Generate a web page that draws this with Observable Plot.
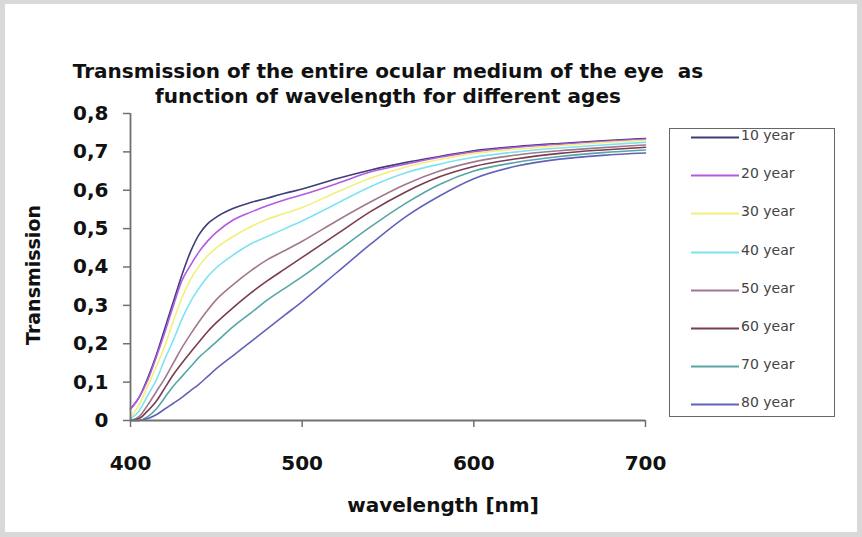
<!DOCTYPE html>
<html>
<head>
<meta charset="utf-8">
<script src="https://cdn.jsdelivr.net/npm/d3@7"></script>
<script src="https://cdn.jsdelivr.net/npm/@observablehq/plot@0.6"></script>
<style>
  html, body { margin: 0; padding: 0; }
  body { width: 862px; height: 537px; background: #d9d9d9; position: relative; overflow: hidden; font-family: "DejaVu Sans", sans-serif; }
  #panel { position: absolute; left: 5px; top: 4px; width: 852px; height: 528px; background: #fff; }
  #chart { position: absolute; left: 0; top: 0; }
  .title { position: absolute; left: 0; width: 776px; text-align: center; font-weight: bold; font-size: 20px; color: #111; white-space: pre; }
  .axlab { position: absolute; font-weight: bold; font-size: 20px; color: #111; white-space: nowrap; }
  #legend { position: absolute; left: 669px; top: 128px; width: 166px; height: 289px; border: 1.5px solid #666; box-sizing: border-box; background: #fff; }
  .lrow { position: absolute; left: 0; height: 20px; }
  .lrow svg { position: absolute; left: 21px; top: 9px; }
  .lrow span { position: absolute; left: 71px; top: 0; font-size: 14px; color: #444; white-space: nowrap; }
</style>
</head>
<body>
<div id="panel"></div>
<div id="chart"></div>
<div class="title" style="top:59px;">Transmission of the entire ocular medium of the eye  as</div>
<div class="title" style="top:84px;">function of wavelength for different ages</div>
<div class="axlab" style="left:443px; top:493px; transform:translateX(-50%);">wavelength [nm]</div>
<div class="axlab" style="left:33px; top:275px; font-size:19px; transform:translate(-50%,-50%) rotate(-90deg);">Transmission</div>
<div id="legend"></div>
<script>
const wavelengths = [400,405,410,415,420,425,430,435,440,445,450,460,470,480,490,500,520,540,560,580,600,625,650,675,700];
const ages = ["10 year","20 year","30 year","40 year","50 year","60 year","70 year","80 year"];
const colors = ["#3d3d7a","#b45ae0","#f2f07a","#7ee2f2","#a07890","#7a3c50","#56a6a6","#6262bc"];
const t10 = [0.03,0.06,0.11,0.17,0.24,0.31,0.38,0.44,0.485,0.513,0.53,0.553,0.568,0.58,0.592,0.603,0.63,0.653,0.672,0.688,0.703,0.714,0.722,0.729,0.735];
const t20 = [0.03,0.06,0.105,0.165,0.23,0.30,0.365,0.405,0.44,0.468,0.49,0.523,0.543,0.56,0.575,0.588,0.617,0.648,0.668,0.686,0.70,0.712,0.72,0.727,0.733];
const t30 = [0.01,0.04,0.09,0.14,0.195,0.26,0.32,0.368,0.403,0.43,0.45,0.48,0.505,0.525,0.54,0.555,0.595,0.632,0.66,0.68,0.696,0.707,0.716,0.724,0.73];
const t40 = [0.005,0.025,0.065,0.105,0.16,0.21,0.265,0.31,0.345,0.375,0.398,0.432,0.46,0.48,0.50,0.52,0.565,0.61,0.645,0.668,0.686,0.70,0.71,0.718,0.725];
const t50 = [0,0.01,0.04,0.075,0.11,0.15,0.19,0.225,0.258,0.288,0.315,0.355,0.39,0.42,0.443,0.467,0.52,0.57,0.615,0.65,0.674,0.692,0.703,0.711,0.718];
const t60 = [0,0.005,0.025,0.05,0.085,0.12,0.15,0.178,0.205,0.232,0.255,0.295,0.332,0.365,0.395,0.425,0.485,0.545,0.595,0.635,0.662,0.682,0.696,0.705,0.712];
const t70 = [0,0,0.01,0.03,0.06,0.09,0.115,0.14,0.165,0.185,0.205,0.245,0.28,0.315,0.345,0.375,0.44,0.505,0.565,0.615,0.65,0.673,0.688,0.698,0.705];
const t80 = [0,0,0.005,0.015,0.03,0.045,0.06,0.078,0.095,0.115,0.135,0.17,0.205,0.24,0.275,0.31,0.385,0.46,0.53,0.585,0.63,0.663,0.681,0.691,0.697];
const yTicks = [0,0.1,0.2,0.3,0.4,0.5,0.6,0.7,0.8];
const xTicks = [400,500,600,700];

const series = [t10,t20,t30,t40,t50,t60,t70,t80];
const rows = [];
series.forEach((s, i) => s.forEach((v, j) => rows.push({age: ages[i], wl: wavelengths[j], t: v})));

const fmt = d => d === 0 ? "0" : d.toFixed(1).replace(".", ",");

const plot = Plot.plot({
  width: 862, height: 537,
  marginLeft: 130, marginRight: 217, marginTop: 113, marginBottom: 117,
  style: {background: "transparent", fontFamily: "'DejaVu Sans', sans-serif"},
  x: {domain: [400, 700]},
  y: {domain: [0, 0.8]},
  color: {domain: ages, range: colors},
  marks: [
    Plot.line(rows, {x: "wl", y: "t", z: "age", stroke: "age", strokeWidth: 1.6, curve: "monotone-x"}),
    Plot.ruleX([400], {y1: 0, y2: 0.8, stroke: "#707070", strokeWidth: 1.8}),
    Plot.ruleY([0], {x1: 400, x2: 700, stroke: "#707070", strokeWidth: 1.8}),
    Plot.axisY({ticks: yTicks, tickFormat: fmt, tickSize: 7, tickPadding: 15, stroke: "#707070", strokeWidth: 1.5, fontSize: 20, fontWeight: "bold", fill: "#111", label: null}),
    Plot.axisX({ticks: xTicks, tickFormat: d => String(d), tickSize: 7, tickPadding: 28, stroke: "#707070", strokeWidth: 1.5, fontSize: 20, fontWeight: "bold", fill: "#111", label: null})
  ]
});
document.getElementById("chart").appendChild(plot);

const legend = document.getElementById("legend");
ages.forEach((a, i) => {
  const r = document.createElement("div");
  r.className = "lrow";
  r.style.top = (-2 + i * 38.2) + "px";
  r.innerHTML = `<svg width="48" height="3"><line x1="0" y1="1.5" x2="48" y2="1.5" stroke="${colors[i]}" stroke-width="2"/></svg><span>${a}</span>`;
  legend.appendChild(r);
});
</script>
</body>
</html>
